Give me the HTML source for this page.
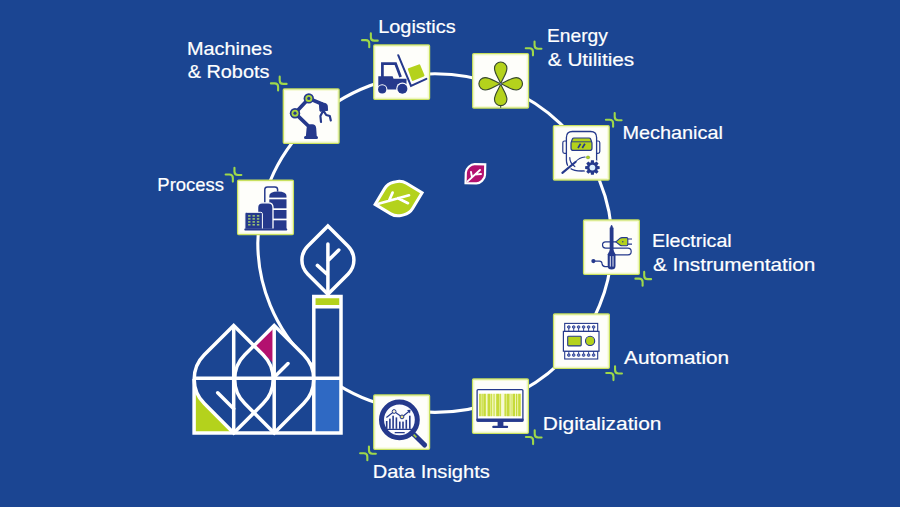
<!DOCTYPE html>
<html><head><meta charset="utf-8"><title>Industries</title>
<style>
html,body{margin:0;padding:0;background:#1b4592;}
body{width:900px;height:507px;overflow:hidden;}
svg{display:block}
text{font-family:"Liberation Sans",sans-serif;font-size:18.6px;fill:#fff;stroke:#fff;stroke-width:0.2px;}
</style></head><body>
<svg width="900" height="507" viewBox="0 0 900 507">
<rect width="900" height="507" fill="#1b4592"/>

<ellipse cx="434.9" cy="243.1" rx="177.1" ry="169.3" fill="none" stroke="#fff" stroke-width="3.1"/>
<g id="factory">
<path d="M233.70,325.40L263.09,354.79A34.52,34.52 0 0 1 263.09,403.61L233.70,433.00L204.31,403.61A34.52,34.52 0 0 1 204.31,354.79Z" fill="#1b4592"/><path d="M274.20,325.40L303.59,354.79A34.52,34.52 0 0 1 303.59,403.61L274.20,433.00L244.81,403.61A34.52,34.52 0 0 1 244.81,354.79Z" fill="#1b4592"/>
<rect x="194" y="378.2" width="147" height="54.80000000000001" fill="#1b4592"/>
<rect x="313.6" y="296.3" width="27.4" height="136.7" fill="#1b4592"/>
<rect x="194.1" y="378.2" width="39.599999999999994" height="54.80000000000001" fill="#b4d21c"/>
<path d="M233.70,325.40L263.09,354.79A34.52,34.52 0 0 1 263.09,403.61L233.70,433.00L204.31,403.61A34.52,34.52 0 0 1 204.31,354.79Z" fill="#1b4592"/>
<path d="M255.5,345.8L274.2,327L274.2,364Z" fill="#b3116f"/>
<rect x="313.8" y="296.5" width="27.2" height="10" fill="#b4d21c"/>
<rect x="313.6" y="378.2" width="27.4" height="54.80000000000001" fill="#2f69c3"/>
<path d="M233.70,325.40L263.09,354.79A34.52,34.52 0 0 1 263.09,403.61L233.70,433.00L204.31,403.61A34.52,34.52 0 0 1 204.31,354.79Z" fill="none" stroke="#fff" stroke-width="3.5" stroke-linejoin="miter"/><path d="M274.20,325.40L303.59,354.79A34.52,34.52 0 0 1 303.59,403.61L274.20,433.00L244.81,403.61A34.52,34.52 0 0 1 244.81,354.79Z" fill="none" stroke="#fff" stroke-width="3.5" stroke-linejoin="miter"/>
<path d="M194.1,379V433.0H341V296.5H313.8V433.0M194.1,378.2H341M313.8,306.7H341M233.7,327.4V433.0M274.2,327.4V433.0" fill="none" stroke="#fff" stroke-width="3.5" stroke-linejoin="miter"/>
<path d="M233.7,408.8L217.7,392.8M274.2,377.2L288,363.6" fill="none" stroke="#fff" stroke-width="3.5" stroke-linejoin="miter" stroke-linecap="round"/>
</g>
<path d="M327.90,226.00L348.17,246.27A19.56,19.56 0 0 1 348.17,273.93L327.90,294.20L307.63,273.93A19.56,19.56 0 0 1 307.63,246.27Z" fill="#1b4592" stroke="#fff" stroke-width="3.5"/>
<path d="M327.9,244V294M327.9,260.8L338.8,250M327.9,275L317.4,265.4" fill="none" stroke="#fff" stroke-width="3.5" stroke-linejoin="miter" stroke-linecap="round"/>
<g transform="translate(398.6,198.6) rotate(76.2)"><path d="M0.0,-24.2L13.0,-11.2C15.4,-8.8 17.0,-4.7 17.0,-1.0L17.0,1.0C17.0,4.7 15.4,8.8 13.0,11.2L0.0,24.2L-13.0,11.2C-15.4,8.8 -17.0,4.7 -17.0,1.0L-17.0,-1.0C-17.0,-4.7 -15.4,-8.8 -13.0,-11.2Z" fill="#b4d21c" stroke="#fff" stroke-width="3" stroke-linejoin="miter"/></g>
<path d="M378.5,203.8L409,195.3M389,200.8L392.6,192.6M398,198.2L408,203.2" fill="none" stroke="#fff" stroke-width="2.7" stroke-linecap="round"/>
<g transform="translate(475.4,173.8) rotate(46.4)"><path d="M0.0,-13.6L7.5,-6.1C8.8,-4.8 9.6,-2.6 9.6,-0.5L9.6,0.5C9.6,2.6 8.8,4.8 7.5,6.1L0.0,13.6L-7.5,6.1C-8.8,4.8 -9.6,2.6 -9.6,0.5L-9.6,-0.5C-9.6,-2.6 -8.8,-4.8 -7.5,-6.1Z" fill="#b3116f" stroke="#fff" stroke-width="2.2" stroke-linejoin="miter"/></g>
<path d="M467.6,181.4L480,170M472,177.2L471,172M474.6,174.6L481,174" fill="none" stroke="#fff" stroke-width="1.9" stroke-linecap="round"/>
<rect x="237.70" y="180.30" width="55.6" height="54.2" fill="#fefefa" stroke="#c8e05e" stroke-width="1.5" rx="1"/>
<rect x="239.00" y="181.60" width="53.0" height="51.6" fill="none" stroke="#f6fad6" stroke-width="1.2"/>
<rect x="283.40" y="89.00" width="55.6" height="54.2" fill="#fefefa" stroke="#c8e05e" stroke-width="1.5" rx="1"/>
<rect x="284.70" y="90.30" width="53.0" height="51.6" fill="none" stroke="#f6fad6" stroke-width="1.2"/>
<rect x="373.85" y="45.05" width="55.6" height="54.2" fill="#fefefa" stroke="#c8e05e" stroke-width="1.5" rx="1"/>
<rect x="375.15" y="46.35" width="53.0" height="51.6" fill="none" stroke="#f6fad6" stroke-width="1.2"/>
<rect x="472.80" y="53.70" width="55.6" height="54.2" fill="#fefefa" stroke="#c8e05e" stroke-width="1.5" rx="1"/>
<rect x="474.10" y="55.00" width="53.0" height="51.6" fill="none" stroke="#f6fad6" stroke-width="1.2"/>
<rect x="553.50" y="125.70" width="55.6" height="54.2" fill="#fefefa" stroke="#c8e05e" stroke-width="1.5" rx="1"/>
<rect x="554.80" y="127.00" width="53.0" height="51.6" fill="none" stroke="#f6fad6" stroke-width="1.2"/>
<rect x="583.65" y="220.10" width="55.6" height="54.2" fill="#fefefa" stroke="#c8e05e" stroke-width="1.5" rx="1"/>
<rect x="584.95" y="221.40" width="53.0" height="51.6" fill="none" stroke="#f6fad6" stroke-width="1.2"/>
<rect x="553.65" y="314.10" width="55.6" height="54.2" fill="#fefefa" stroke="#c8e05e" stroke-width="1.5" rx="1"/>
<rect x="554.95" y="315.40" width="53.0" height="51.6" fill="none" stroke="#f6fad6" stroke-width="1.2"/>
<rect x="472.65" y="379.10" width="55.6" height="54.2" fill="#fefefa" stroke="#c8e05e" stroke-width="1.5" rx="1"/>
<rect x="473.95" y="380.40" width="53.0" height="51.6" fill="none" stroke="#f6fad6" stroke-width="1.2"/>
<rect x="373.85" y="395.10" width="55.6" height="54.2" fill="#fefefa" stroke="#c8e05e" stroke-width="1.5" rx="1"/>
<rect x="375.15" y="396.40" width="53.0" height="51.6" fill="none" stroke="#f6fad6" stroke-width="1.2"/>
<path d="M370.85,33.40V37.20Q370.85,40.65 374.35,40.65H377.75M362.05,40.15H365.75Q369.25,40.15 369.25,43.60V47.20" fill="none" stroke="#9fd84a" stroke-width="2.1" stroke-linecap="round"/>
<path d="M279.70,76.65V80.45Q279.70,83.90 283.20,83.90H286.60M270.90,83.40H274.60Q278.10,83.40 278.10,86.85V90.45" fill="none" stroke="#9fd84a" stroke-width="2.1" stroke-linecap="round"/>
<path d="M234.45,167.80V171.60Q234.45,175.05 237.95,175.05H241.35M225.65,174.55H229.35Q232.85,174.55 232.85,178.00V181.60" fill="none" stroke="#9fd84a" stroke-width="2.1" stroke-linecap="round"/>
<path d="M534.55,41.55V45.35Q534.55,48.80 538.05,48.80H541.45M525.75,48.30H529.45Q532.95,48.30 532.95,51.75V55.35" fill="none" stroke="#9fd84a" stroke-width="2.1" stroke-linecap="round"/>
<path d="M614.70,113.00V116.80Q614.70,120.25 618.20,120.25H621.60M605.90,119.75H609.60Q613.10,119.75 613.10,123.20V126.80" fill="none" stroke="#9fd84a" stroke-width="2.1" stroke-linecap="round"/>
<path d="M644.20,271.90V275.70Q644.20,279.15 647.70,279.15H651.10M635.40,278.65H639.10Q642.60,278.65 642.60,282.10V285.70" fill="none" stroke="#9fd84a" stroke-width="2.1" stroke-linecap="round"/>
<path d="M615.05,366.30V370.10Q615.05,373.55 618.55,373.55H621.95M606.25,373.05H609.95Q613.45,373.05 613.45,376.50V380.10" fill="none" stroke="#9fd84a" stroke-width="2.1" stroke-linecap="round"/>
<path d="M534.70,430.30V434.10Q534.70,437.55 538.20,437.55H541.60M525.90,437.05H529.60Q533.10,437.05 533.10,440.50V444.10" fill="none" stroke="#9fd84a" stroke-width="2.1" stroke-linecap="round"/>
<path d="M368.95,446.50V450.30Q368.95,453.75 372.45,453.75H375.85M360.15,453.25H363.85Q367.35,453.25 367.35,456.70V460.30" fill="none" stroke="#9fd84a" stroke-width="2.1" stroke-linecap="round"/>
<text x="187.0" y="54.7" textLength="85.1" lengthAdjust="spacingAndGlyphs">Machines</text>
<text x="187.7" y="78.3" textLength="81.7" lengthAdjust="spacingAndGlyphs">&amp; Robots</text>
<text x="378.2" y="32.9" textLength="77.4" lengthAdjust="spacingAndGlyphs">Logistics</text>
<text x="547.0" y="42.4" textLength="60.9" lengthAdjust="spacingAndGlyphs">Energy</text>
<text x="547.8" y="66.1" textLength="86.4" lengthAdjust="spacingAndGlyphs">&amp; Utilities</text>
<text x="622.5" y="138.8" textLength="100.4" lengthAdjust="spacingAndGlyphs">Mechanical</text>
<text x="652.1" y="246.5" textLength="79.6" lengthAdjust="spacingAndGlyphs">Electrical</text>
<text x="652.9" y="270.5" textLength="162.5" lengthAdjust="spacingAndGlyphs">&amp; Instrumentation</text>
<text x="624.1" y="364.2" textLength="105.0" lengthAdjust="spacingAndGlyphs">Automation</text>
<text x="542.8" y="429.5" textLength="118.7" lengthAdjust="spacingAndGlyphs">Digitalization</text>
<text x="372.7" y="478.3" textLength="117.1" lengthAdjust="spacingAndGlyphs">Data Insights</text>
<text x="157.3" y="190.5" textLength="66.8" lengthAdjust="spacingAndGlyphs">Process</text>
<g id="ic-process"><path d="M269.3,229.3V196q0,-4.6 8.6,-4.6q8.6,0 8.6,4.6V229.3Z" fill="#25398c"/>
<rect x="269" y="197.6" width="18" height="1.7" fill="#fff"/>
<rect x="269" y="208.3" width="18" height="1.7" fill="#fff"/>
<rect x="269" y="218.6" width="18" height="1.7" fill="#fff"/>
<path d="M264.8,204V189.6q0,-2.7 2.7,-2.7h7.4q2.7,0 2.7,2.7v2" fill="none" stroke="#25398c" stroke-width="1.5"/>
<path d="M257.6,229.3V207.4q0,-4.6 4.6,-4.6h6.2q4.6,0 4.6,4.6V229.3Z" fill="#25398c" stroke="#fff" stroke-width="1.3"/>
<path d="M244.9,229.3V213.8q0,-1.5 1.5,-1.5h14.4q1.6,0 1.6,1.5V229.3Z" fill="#25398c" stroke="#fff" stroke-width="1"/>
<rect x="248.1" y="215.2" width="2.4" height="1.4" fill="#a8d46f"/>
<rect x="248.1" y="218.2" width="2.4" height="1.4" fill="#a8d46f"/>
<rect x="248.1" y="221.2" width="2.4" height="1.4" fill="#a8d46f"/>
<rect x="248.1" y="224.1" width="2.4" height="1.4" fill="#a8d46f"/>
<rect x="252.5" y="215.2" width="2.4" height="1.4" fill="#a8d46f"/>
<rect x="252.5" y="218.2" width="2.4" height="1.4" fill="#a8d46f"/>
<rect x="252.5" y="221.2" width="2.4" height="1.4" fill="#a8d46f"/>
<rect x="252.5" y="224.1" width="2.4" height="1.4" fill="#a8d46f"/>
<rect x="256.9" y="215.2" width="2.4" height="1.4" fill="#a8d46f"/>
<rect x="256.9" y="218.2" width="2.4" height="1.4" fill="#a8d46f"/>
<rect x="256.9" y="221.2" width="2.4" height="1.4" fill="#a8d46f"/>
<rect x="256.9" y="224.1" width="2.4" height="1.4" fill="#a8d46f"/>
<rect x="244.3" y="228.6" width="43" height="1.8" rx="0.9" fill="#25398c"/></g>
<g id="ic-machines"><path d="M295,113.2L308.8,98.4L322,104" fill="none" stroke="#25398c" stroke-width="3.6" stroke-linecap="round" stroke-linejoin="round"/>
<path d="M295,113.2L310.5,128" fill="none" stroke="#25398c" stroke-width="3.8" stroke-linecap="round"/>
<path d="M305.8,137L306.6,128.3q0.3,-4 4,-4h1.6q3.7,0 4,4L316.8,137Z" fill="#25398c"/>
<rect x="304" y="136" width="14" height="3" rx="1.5" fill="#25398c"/>
<path d="M319.2,102.2L325.6,103.6Q327,104 327.2,105.5L327.6,110.4L320,111.2Z" fill="#25398c" stroke="#25398c" stroke-width="1" stroke-linejoin="round"/>
<path d="M323,111L320.4,116L321,122M324,111.6L326.2,115L329.8,116L330.8,120.4" fill="none" stroke="#25398c" stroke-width="2.2" stroke-linecap="round" stroke-linejoin="round"/>
<circle cx="308.8" cy="98.4" r="5.2" fill="#25398c"/><circle cx="308.8" cy="98.4" r="3.5" fill="#a8d63e"/><circle cx="308.8" cy="98.4" r="1.6" fill="#25398c"/>
<circle cx="295" cy="113.2" r="5.2" fill="#25398c"/><circle cx="295" cy="113.2" r="3.5" fill="#a8d63e"/><circle cx="295" cy="113.2" r="1.6" fill="#25398c"/></g>
<g id="ic-logistics"><path d="M382.4,77V63.7H395.6L400.6,77" fill="none" stroke="#25398c" stroke-width="2.7" stroke-linejoin="miter"/>
<path d="M378.3,76.3H392.6L393.6,78.7H406.5V89.5H378.3Z" fill="#25398c"/>
<circle cx="382.2" cy="89.4" r="5.2" fill="#fff"/><circle cx="382.2" cy="89.4" r="4.1" fill="#25398c"/>
<circle cx="402.4" cy="88.7" r="6.2" fill="#fff"/><circle cx="402.4" cy="88.7" r="5" fill="#25398c"/>
<path d="M398.2,55.2L411,85.8L426.4,78.9" fill="none" stroke="#25398c" stroke-width="2" stroke-linecap="round" stroke-linejoin="miter"/>
<path d="M408.4,68.3L418.8,64.4Q419.8,64 420.2,65L424.4,75Q424.8,76 423.8,76.4L413.2,80.8Q412.2,81.2 411.8,80.2L407.9,69.5Q407.5,68.6 408.4,68.3Z" fill="#b4d21c"/></g>
<g id="ic-energy"><path d="M0,0C-1.5,-5 -6.2,-10 -6.2,-15.6A6.2,6.2 0 0 1 6.2,-15.6C6.2,-10 1.5,-5 0,0Z" transform="translate(500.7,83.8) rotate(0)" fill="#b4d21c" stroke="#37482f" stroke-width="1.15" stroke-linejoin="round"/>
<path d="M0,0C-1.5,-5 -6.2,-10 -6.2,-15.6A6.2,6.2 0 0 1 6.2,-15.6C6.2,-10 1.5,-5 0,0Z" transform="translate(500.7,83.8) rotate(90)" fill="#b4d21c" stroke="#37482f" stroke-width="1.15" stroke-linejoin="round"/>
<path d="M0,0C-1.5,-5 -6.2,-10 -6.2,-15.6A6.2,6.2 0 0 1 6.2,-15.6C6.2,-10 1.5,-5 0,0Z" transform="translate(500.7,83.8) rotate(180)" fill="#b4d21c" stroke="#37482f" stroke-width="1.15" stroke-linejoin="round"/>
<path d="M0,0C-1.5,-5 -6.2,-10 -6.2,-15.6A6.2,6.2 0 0 1 6.2,-15.6C6.2,-10 1.5,-5 0,0Z" transform="translate(500.7,83.8) rotate(270)" fill="#b4d21c" stroke="#37482f" stroke-width="1.15" stroke-linejoin="round"/>
<path d="M500.7,105.3V107.8" stroke="#37482f" stroke-width="1"/>
<circle cx="500.7" cy="83.8" r="0.9" fill="#6a7fd0"/></g>
<g id="ic-mechanical"><path d="M566.4,160V137.5q0,-6 6,-6h18.2q6,0 6,6V160q0,11 -15.1,11q-15.1,0 -15.1,-11Z" fill="none" stroke="#25398c" stroke-width="1.3"/>
<path d="M566.4,141h-1.8q-1.8,0 -1.8,1.8v8.8q0,1.8 1.8,1.8h1.8M596.6,141h1.4q1.8,0 1.8,1.8v8.8q0,1.8 -1.8,1.8h-1.4" fill="none" stroke="#25398c" stroke-width="1.2"/>
<path d="M574,138h15q1.2,0 1.6,1l1,2.6q0.4,1 0.4,2v4.6q0,2.2 -2.2,2.2h-16.6q-2.2,0 -2.2,-2.2v-4.6q0,-1 0.4,-2l1,-2.6q0.4,-1 1.6,-1Z" fill="#b4d21c" stroke="#25398c" stroke-width="1.2"/>
<path d="M571.6,141.8H591.4" stroke="#25398c" stroke-width="0.9"/>
<path d="M578,148l2.6,-4.2M582.3,148l2.6,-4.2" stroke="#25398c" stroke-width="1.7"/>
<circle cx="592.4" cy="167.6" r="8.4" fill="#fefef8"/>
<path d="M562.4,172.8L575.5,162" stroke="#fefef8" stroke-width="4"/>
<path d="M562.4,172.8L575.5,162" stroke="#25398c" stroke-width="2.2" stroke-linecap="round"/>
<path d="M575.5,162Q579,157.5 585,157" fill="none" stroke="#25398c" stroke-width="1.2" stroke-linecap="round"/>
<path d="M569.8,157.6Q569.6,163 574.8,166.6" fill="none" stroke="#25398c" stroke-width="1.2" stroke-linecap="round"/>
<ellipse cx="588" cy="157.4" rx="1.7" ry="1.4" fill="#b4d21c" stroke="#7aa02a" stroke-width="0.6"/>
<path d="M599.65,166.13L599.65,169.07L597.53,169.30L597.23,170.02L598.57,171.69L596.49,173.77L594.82,172.43L594.10,172.73L593.87,174.85L590.93,174.85L590.70,172.73L589.98,172.43L588.31,173.77L586.23,171.69L587.57,170.02L587.27,169.30L585.15,169.07L585.15,166.13L587.27,165.90L587.57,165.18L586.23,163.51L588.31,161.43L589.98,162.77L590.70,162.47L590.93,160.35L593.87,160.35L594.10,162.47L594.82,162.77L596.49,161.43L598.57,163.51L597.23,165.18L597.53,165.90Z" fill="#25398c"/>
<circle cx="592.4" cy="167.6" r="2.9" fill="#dcefff"/></g>
<g id="ic-electrical"><path d="M616,241.9H605.6a3.1,3.1 0 0 0 0,6.2H627.8a3.4,3.4 0 0 1 0,6.8H615" fill="none" stroke="#25398c" stroke-width="1.2"/>
<path d="M611.6,225L613.2,228.2V251h-3.2V228.2Z" fill="#25398c" stroke="#25398c" stroke-width="0.6" stroke-linejoin="round"/>
<path d="M610.2,249.6h2.8l2.5,4.6V266q0,3.5 -3.9,3.5q-3.9,0 -3.9,-3.5V254.2Z" fill="#25398c"/>
<path d="M610.3,256.5V266.2M613,256.5V266.2" stroke="#fff" stroke-width="0.9" stroke-linecap="round"/>
<path d="M615.8,241.9L620.2,238.2Q621,237.6 622,237.6H626.6Q627.8,237.6 627.8,238.8V244.6Q627.8,245.8 626.6,245.8H622Q621,245.8 620.2,245.2Z" fill="#b4d21c" stroke="#25398c" stroke-width="1.1" stroke-linejoin="round"/>
<path d="M627.8,239H632M627.8,244.2H632" stroke="#25398c" stroke-width="1.2"/>
<circle cx="622.8" cy="241.7" r="0.7" fill="#25398c"/>
<circle cx="593.4" cy="261.1" r="2.1" fill="#25398c"/>
<path d="M593.4,261.1H599.4Q601.8,261.1 602,263.4Q602.4,266.6 605,266.7H608.6" fill="none" stroke="#25398c" stroke-width="1.2"/></g>
<g id="ic-automation"><rect x="564.7" y="323.4" width="33" height="8" fill="#fff" stroke="#25398c" stroke-width="1.1"/>
<rect x="564.7" y="351.2" width="33" height="7.8" fill="#fff" stroke="#25398c" stroke-width="1.1"/>
<rect x="563.4" y="331.4" width="35.6" height="19.8" fill="#fff" stroke="#25398c" stroke-width="1.2"/>
<path d="M568.8,327.2V331.4M568.8,354.8V351.2" stroke="#25398c" stroke-width="0.9"/>
<circle cx="568.8" cy="327" r="1.35" fill="#6f7fc4" stroke="#25398c" stroke-width="0.8"/>
<circle cx="568.8" cy="355.1" r="1.35" fill="#6f7fc4" stroke="#25398c" stroke-width="0.8"/>
<path d="M573.7,327.2V331.4M573.7,354.8V351.2" stroke="#25398c" stroke-width="0.9"/>
<circle cx="573.7" cy="327" r="1.35" fill="#6f7fc4" stroke="#25398c" stroke-width="0.8"/>
<circle cx="573.7" cy="355.1" r="1.35" fill="#6f7fc4" stroke="#25398c" stroke-width="0.8"/>
<path d="M578.6,327.2V331.4M578.6,354.8V351.2" stroke="#25398c" stroke-width="0.9"/>
<circle cx="578.6" cy="327" r="1.35" fill="#6f7fc4" stroke="#25398c" stroke-width="0.8"/>
<circle cx="578.6" cy="355.1" r="1.35" fill="#6f7fc4" stroke="#25398c" stroke-width="0.8"/>
<path d="M583.6,327.2V331.4M583.6,354.8V351.2" stroke="#25398c" stroke-width="0.9"/>
<circle cx="583.6" cy="327" r="1.35" fill="#6f7fc4" stroke="#25398c" stroke-width="0.8"/>
<circle cx="583.6" cy="355.1" r="1.35" fill="#6f7fc4" stroke="#25398c" stroke-width="0.8"/>
<path d="M588.6,327.2V331.4M588.6,354.8V351.2" stroke="#25398c" stroke-width="0.9"/>
<circle cx="588.6" cy="327" r="1.35" fill="#6f7fc4" stroke="#25398c" stroke-width="0.8"/>
<circle cx="588.6" cy="355.1" r="1.35" fill="#6f7fc4" stroke="#25398c" stroke-width="0.8"/>
<path d="M593.6,327.2V331.4M593.6,354.8V351.2" stroke="#25398c" stroke-width="0.9"/>
<circle cx="593.6" cy="327" r="1.35" fill="#6f7fc4" stroke="#25398c" stroke-width="0.8"/>
<circle cx="593.6" cy="355.1" r="1.35" fill="#6f7fc4" stroke="#25398c" stroke-width="0.8"/>
<rect x="567.7" y="336.2" width="13.5" height="9.7" rx="0.8" fill="#b4d21c" stroke="#25398c" stroke-width="1.1"/>
<circle cx="590.1" cy="340.9" r="4.6" fill="#b4d21c" stroke="#25398c" stroke-width="1.1"/></g>
<g id="ic-digital"><rect x="477.1" y="389.6" width="45.8" height="31.4" rx="1" fill="#fff" stroke="#25398c" stroke-width="1.3"/>
<rect x="476.5" y="418.4" width="47" height="3.3" rx="0.8" fill="#25398c"/>
<rect x="497.6" y="421" width="5.8" height="5.6" fill="#25398c"/>
<rect x="492.2" y="425.8" width="16" height="2.3" rx="1.1" fill="#25398c"/>
<rect x="479.2" y="393.8" width="42" height="22.4" fill="#eff6ae"/>
<rect x="479.2" y="393.8" width="1.6" height="22.4" fill="#c6da3a"/>
<rect x="481.6" y="393.8" width="1.1" height="22.4" fill="#c6da3a"/>
<rect x="483.4" y="393.8" width="2.4" height="22.4" fill="#c6da3a"/>
<rect x="487.6" y="393.8" width="2.6" height="22.4" fill="#c6da3a"/>
<rect x="490.8" y="393.8" width="1" height="22.4" fill="#c6da3a"/>
<rect x="493.6" y="393.8" width="0.9" height="22.4" fill="#c6da3a"/>
<rect x="496.2" y="393.8" width="2.8" height="22.4" fill="#c6da3a"/>
<rect x="499.6" y="393.8" width="1.2" height="22.4" fill="#c6da3a"/>
<rect x="504.6" y="393.8" width="1.3" height="22.4" fill="#c6da3a"/>
<rect x="506.6" y="393.8" width="3" height="22.4" fill="#c6da3a"/>
<rect x="510.4" y="393.8" width="1" height="22.4" fill="#c6da3a"/>
<rect x="512.6" y="393.8" width="2.6" height="22.4" fill="#c6da3a"/>
<rect x="516" y="393.8" width="1.2" height="22.4" fill="#c6da3a"/>
<rect x="518.2" y="393.8" width="2.4" height="22.4" fill="#c6da3a"/>
<rect x="486.3" y="393.8" width="0.8" height="22.4" fill="#f7f9d8"/>
<rect x="495.0" y="393.8" width="0.7" height="22.4" fill="#f7f9d8"/>
<rect x="501.4" y="393.8" width="2.6" height="22.4" fill="#f7f9d8"/>
<rect x="509.9" y="393.8" width="0.5" height="22.4" fill="#f7f9d8"/>
<rect x="515.4" y="393.8" width="0.5" height="22.4" fill="#f7f9d8"/></g>
<g id="ic-data"><path d="M414,434.4L424.6,445" stroke="#25398c" stroke-width="5" stroke-linecap="round"/>
<circle cx="399.4" cy="419.8" r="17.9" fill="#fbfbff" stroke="#25398c" stroke-width="5"/>
<path d="M413.6,434.6L416.4,437.4" stroke="#a6d23c" stroke-width="1.6"/>
<rect x="385.9" y="421" width="1.6" height="7.8" fill="#25398c"/>
<rect x="389.09999999999997" y="418.6" width="1.6" height="10.2" fill="#25398c"/>
<rect x="392.3" y="415.7" width="1.6" height="13.1" fill="#25398c"/>
<rect x="395.59999999999997" y="417.4" width="1.6" height="11.4" fill="#25398c"/>
<rect x="399.0" y="421.6" width="1.6" height="7.2" fill="#25398c"/>
<rect x="402.2" y="421.6" width="1.6" height="7.2" fill="#25398c"/>
<rect x="405.5" y="419.8" width="1.6" height="9.0" fill="#25398c"/>
<rect x="409.0" y="415.7" width="1.6" height="13.1" fill="#25398c"/>
<path d="M385.8,429.3H411.8M394.7,432.6H404.7" stroke="#25398c" stroke-width="1.2"/>
<path d="M386.4,417.4L394.1,411.5L402,416.9L409.2,411.2" fill="none" stroke="#25398c" stroke-width="1.2"/>
<path d="M407,410L410.6,409.8L410,413.6Z" fill="#25398c"/>
<circle cx="394.1" cy="411.5" r="1.9" fill="#fbf6d8" stroke="#25398c" stroke-width="1"/>
<circle cx="402" cy="416.9" r="1.9" fill="#e6e08c" stroke="#25398c" stroke-width="1"/></g>
</svg></body></html>
